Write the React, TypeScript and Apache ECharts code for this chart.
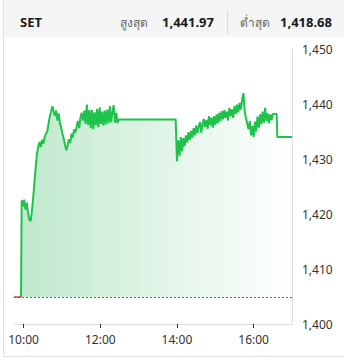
import React, { useEffect, useRef } from "react";
import * as echarts from "echarts";

// ---- data ----
const prevClose = 1404.93;
const highValue = "1,441.97";
const lowValue = "1,418.68";
const xMin = 585; // 09:45 in minutes
const xMax = 1020; // 17:00
const tickTimes = [600, 720, 840, 960];
const yTicks = [1400, 1410, 1420, 1430, 1440, 1450];

const preOpenStart = 585;
const preOpenEnd = 596;
const step = 2;
const morningStart = 597;
const morningValues = [
  1422.5, 1421.4, 1422.6, 1420.8, 1422.0, 1420.2, 1419.0, 1418.7, 1420.5, 1423.0,
  1425.8, 1428.5, 1431.0, 1432.3, 1433.1, 1432.2, 1433.5, 1432.8, 1434.0, 1434.6,
  1435.0, 1436.4, 1437.8, 1438.6, 1439.6, 1438.7, 1437.8, 1438.8, 1437.0, 1438.3,
  1436.4, 1435.6, 1434.5, 1433.6, 1432.4, 1431.6, 1432.6, 1433.6, 1432.9, 1434.6,
  1433.9, 1435.4, 1434.8, 1435.9, 1436.9, 1435.6, 1437.6, 1438.4, 1437.0, 1438.8,
  1436.4, 1439.9, 1436.2, 1438.9, 1435.6, 1438.9, 1435.4, 1438.5, 1436.2, 1439.1,
  1435.8, 1439.4, 1436.4, 1438.6, 1436.1, 1438.8, 1436.3, 1439.0, 1436.5, 1439.6,
  1436.7, 1438.5, 1439.8, 1436.6, 1438.4, 1436.5, 1437.2,
];
const lunchEnd = 838;
const afternoonStart = 840;
const afternoonValues = [
  1429.6, 1433.4, 1430.6, 1434.0, 1431.4, 1433.8, 1432.4, 1434.3, 1433.0, 1434.9,
  1433.5, 1435.1, 1433.9, 1435.6, 1434.3, 1436.1, 1434.7, 1435.9, 1436.7, 1434.8,
  1436.3, 1437.3, 1435.8, 1437.1, 1435.5, 1437.8, 1436.1, 1437.5, 1435.7, 1437.8,
  1436.2, 1438.1, 1436.5, 1438.4, 1436.9, 1438.7, 1437.2, 1438.9, 1437.5, 1438.6,
  1437.0, 1439.3, 1437.8, 1439.0, 1437.5, 1439.6, 1438.2, 1439.9, 1438.5, 1440.2,
  1439.0, 1440.8, 1441.97, 1438.6, 1437.4, 1436.4, 1435.4, 1436.9, 1434.3, 1436.0,
  1434.0, 1436.8, 1435.0, 1437.7, 1435.7, 1438.1, 1436.3, 1438.6, 1436.6, 1439.3,
  1436.9, 1438.3, 1436.5, 1438.1, 1437.1, 1438.2,
];
const closeAuctionTime = 996;
const closeValue = 1434.0;

const pad = (n: number) => (n < 10 ? "0" + n : "" + n);
const fmtTime = (m: number) => `${pad(Math.floor(m / 60))}:${pad(m % 60)}`;

export default function App() {
  const ref = useRef<HTMLDivElement>(null);
  useEffect(() => {
    if (!ref.current) return;
    const chart = echarts.init(ref.current, null, { renderer: "svg" });

    const mainData: [number, number][] = [];
    mainData.push([preOpenEnd, prevClose]);
    morningValues.forEach((v, i) => mainData.push([morningStart + i * step, v]));
    mainData.push([lunchEnd, morningValues[morningValues.length - 1]]);
    afternoonValues.forEach((v, i) => mainData.push([afternoonStart + i * step, v]));
    mainData.push([closeAuctionTime, afternoonValues[afternoonValues.length - 1]]);
    mainData.push([closeAuctionTime + 1, closeValue]);
    mainData.push([xMax, closeValue]);

    const font = "'Noto Sans', 'DejaVu Sans', sans-serif";

    chart.setOption({
      animation: false,
      textStyle: { fontFamily: font },
      grid: { left: 14, right: 52, top: 49, bottom: 37 },
      xAxis: {
        type: "value",
        min: xMin,
        max: xMax,
        axisLine: { show: true, lineStyle: { color: "#dddddd", width: 1 } },
        axisTick: {
          show: true,
          customValues: tickTimes,
          length: 4,
          lineStyle: { color: "#333333" },
        },
        axisLabel: {
          customValues: tickTimes,
          formatter: (v: number) => fmtTime(v),
          color: "#333333",
          fontSize: 12,
          margin: 9,
          fontFamily: font,
        },
        splitLine: { show: false },
      },
      yAxis: {
        type: "value",
        position: "right",
        min: yTicks[0],
        max: yTicks[yTicks.length - 1],
        interval: 10,
        axisLine: { show: true, lineStyle: { color: "#dddddd", width: 1 } },
        axisTick: { show: false },
        splitLine: { show: false },
        axisLabel: {
          color: "#333333",
          fontSize: 12,
          margin: 10,
          fontFamily: font,
          formatter: (v: number) => v.toLocaleString("en-US"),
        },
      },
      series: [
        {
          type: "line",
          data: [
            [preOpenStart, prevClose],
            [preOpenEnd, prevClose],
          ],
          showSymbol: false,
          symbol: "none",
          lineStyle: { color: "#e53935", width: 1.5 },
          z: 3,
        },
        {
          type: "line",
          data: mainData,
          showSymbol: false,
          symbol: "none",
          lineStyle: { color: "#1fc24a", width: 2 },
          areaStyle: {
            origin: prevClose,
            color: new echarts.graphic.LinearGradient(0, 0, 1, 0, [
              { offset: 0, color: "rgba(40,180,85,0.42)" },
              { offset: 1, color: "rgba(40,180,85,0.0)" },
            ]),
          },
          markLine: {
            silent: true,
            symbol: "none",
            label: { show: false },
            lineStyle: { color: "#3a7d8c", type: [2, 2], width: 1 },
            data: [{ yAxis: prevClose }],
          },
          z: 2,
        },
      ],
      graphic: [
        {
          type: "rect",
          shape: { x: 3, y: 0, width: 341, height: 37 },
          style: { fill: "#f4f6f6" },
          z: -1,
        },
        {
          type: "line",
          shape: { x1: 3.5, y1: 0, x2: 3.5, y2: 356.5 },
          style: { stroke: "#e0e0e0", lineWidth: 1 },
        },
        {
          type: "line",
          shape: { x1: 3, y1: 356.5, x2: 344, y2: 356.5 },
          style: { stroke: "#e0e0e0", lineWidth: 1 },
        },
        {
          type: "line",
          shape: { x1: 227.5, y1: 10, x2: 227.5, y2: 34 },
          style: { stroke: "#dddddd", lineWidth: 1 },
        },
        {
          type: "text",
          x: 20,
          y: 22,
          style: {
            text: "SET",
            fill: "#1a1a1a",
            font: `bold 13px ${font}`,
            verticalAlign: "middle",
          },
        },
        {
          type: "text",
          x: 120,
          y: 22,
          style: {
            text: "สูงสุด",
            fill: "#666666",
            font: `12px ${font}`,
            verticalAlign: "middle",
          },
        },
        {
          type: "text",
          x: 162,
          y: 22,
          style: {
            text: highValue,
            fill: "#1a1a1a",
            font: `bold 13px ${font}`,
            verticalAlign: "middle",
          },
        },
        {
          type: "text",
          x: 240,
          y: 22,
          style: {
            text: "ต่ำสุด",
            fill: "#666666",
            font: `12px ${font}`,
            verticalAlign: "middle",
          },
        },
        {
          type: "text",
          x: 280,
          y: 22,
          style: {
            text: lowValue,
            fill: "#1a1a1a",
            font: `bold 13px ${font}`,
            verticalAlign: "middle",
          },
        },
      ],
    });
    return () => chart.dispose();
  }, []);
  return (
    <div
      ref={ref}
      style={{ position: "fixed", left: 0, top: 0, width: 344, height: 361, background: "#ffffff" }}
    />
  );
}
